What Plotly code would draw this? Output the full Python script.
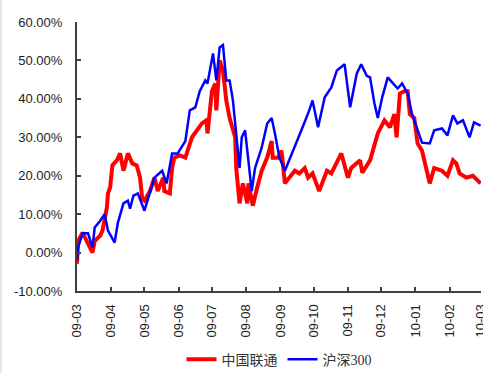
import pandas as pd
import plotly.graph_objects as go

# Day offsets from 2009-03-01 and values (%)
start = pd.Timestamp("2009-03-01")

unicom_days = [0, 1, 5, 9, 14, 16, 21, 23, 27, 28, 30, 32, 36, 39, 42, 46, 50, 54, 57, 59,
               61, 66, 70, 73, 78, 79, 84, 86, 88, 93, 98, 104, 108, 113, 117, 118, 122, 125,
               126, 129, 132, 135, 138, 143, 144, 145, 147, 150, 154, 155, 159, 163, 167, 172,
               176, 177, 182, 185, 188, 192, 197, 201, 206, 209, 213, 219, 226, 230, 239, 245,
               248, 256, 258, 265, 272, 278, 283, 287, 289, 292, 296, 299, 301, 305, 308, 312,
               316, 319, 323, 330, 335, 340, 343, 346, 352, 358, 365]
unicom_vals = [-2.9, 3.0, 5.2, 3.0, 0.0, 3.0, 4.4, 5.7, 11.7, 15.4, 17.0, 22.7, 24.0, 25.8, 21.3,
               25.8, 23.2, 22.7, 19.5, 14.0, 13.5, 16.0, 19.5, 16.0, 19.5, 16.0, 15.4, 22.0, 24.7,
               25.3, 24.7, 30.0, 31.8, 33.6, 34.4, 31.0, 42.0, 44.0, 37.0, 50.0, 47.4, 39.6, 35.0,
               30.0, 22.0, 18.0, 12.8, 18.0, 12.8, 18.0, 12.2, 17.0, 21.3, 24.7, 29.0, 24.7, 24.7,
               26.5, 18.0, 19.5, 21.3, 20.6, 22.0, 19.5, 20.6, 16.0, 21.3, 20.6, 25.8, 19.5, 22.0,
               24.0, 20.8, 24.0, 31.0, 34.4, 32.6, 36.0, 30.0, 41.4, 42.0, 42.0, 36.0, 35.0, 28.4,
               26.5, 22.0, 18.0, 22.0, 21.3, 20.0, 24.0, 23.2, 20.6, 19.5, 20.0, 18.0]

hs300_days = [0, 1, 5, 10, 14, 16, 21, 25, 28, 34, 37, 42, 46, 48, 51, 55, 61, 66, 70, 77, 81,
              86, 91, 98, 102, 107, 111, 116, 118, 123, 126, 129, 132, 135, 138, 141, 143, 147,
              149, 152, 154, 158, 161, 167, 172, 176, 179, 183, 188, 192, 199, 204, 210, 213,
              218, 224, 230, 235, 242, 247, 253, 257, 262, 265, 269, 272, 276, 281, 285, 290,
              294, 299, 303, 308, 312, 319, 323, 330, 335, 340, 344, 349, 355, 359, 365]
hs300_vals = [-2.0, 1.3, 5.0, 5.0, 1.3, 6.5, 8.3, 10.0, 5.7, 2.6, 7.8, 12.8, 13.5, 11.4, 14.8,
              15.4, 10.9, 16.0, 19.5, 21.3, 18.0, 25.8, 25.8, 29.0, 37.0, 37.8, 42.0, 44.8, 44.0,
              51.8, 44.8, 53.4, 54.0, 44.8, 44.8, 39.6, 33.6, 22.0, 30.0, 31.8, 26.5, 16.0, 22.0,
              27.3, 33.6, 35.0, 31.0, 24.7, 21.3, 24.0, 29.0, 32.6, 37.0, 39.6, 32.6, 40.4, 43.0,
              47.4, 49.0, 37.8, 46.6, 49.0, 46.0, 45.6, 38.8, 35.0, 40.4, 45.6, 44.3, 42.7, 44.0,
              41.4, 36.0, 31.8, 28.6, 28.4, 31.8, 32.3, 30.5, 35.7, 33.6, 34.4, 30.0, 33.9, 33.0]

y_ticks = [-10, 0, 10, 20, 30, 40, 50, 60]
y_tick_labels = ["-10.00%", "0.00%", "10.00%", "20.00%", "30.00%", "40.00%", "50.00%", "60.00%"]
series_names = ["中国联通", "沪深300"]

unicom_dates = [start + pd.Timedelta(days=d) for d in unicom_days]
hs300_dates = [start + pd.Timedelta(days=d) for d in hs300_days]

fig = go.Figure()
fig.add_trace(go.Scatter(x=unicom_dates, y=unicom_vals, mode="lines", name=series_names[0],
                         line=dict(color="#FF0000", width=4)))
fig.add_trace(go.Scatter(x=hs300_dates, y=hs300_vals, mode="lines", name=series_names[1],
                         line=dict(color="#0000FF", width=2.5)))

axis_font = dict(family="Liberation Sans, Arial, sans-serif", size=13, color="#222222")

fig.update_layout(
    width=483, height=373,
    margin=dict(l=77, r=2, t=22, b=82, autoexpand=False),
    paper_bgcolor="white", plot_bgcolor="white",
    showlegend=True,
    legend=dict(orientation="h", x=0.5, xanchor="center", y=-0.255, yanchor="middle",
                font=dict(family="Liberation Serif, Noto Sans CJK SC, serif", size=14, color="#333333"),
                itemwidth=30, tracegroupgap=0),
    xaxis=dict(type="date", range=[start, pd.Timestamp("2010-03-01 08:00")],
               tick0="2009-03-01", dtick="M1", tickformat="%y-%m", tickangle=-90,
               showgrid=False, zeroline=False, showline=True, linecolor="#404040", linewidth=2,
               ticks="inside", ticklen=4, tickwidth=1.5, tickcolor="#404040",
               tickfont=axis_font, ticklabelstandoff=6, ticklabeloverflow="allow",
               automargin=False),
    yaxis=dict(range=[-10, 60], tickvals=y_ticks, ticktext=y_tick_labels,
               showgrid=False, zeroline=False, showline=True, linecolor="#404040", linewidth=2,
               ticks="inside", ticklen=4, tickwidth=1.5, tickcolor="#404040",
               tickfont=axis_font, ticklabelstandoff=10, automargin=False),
    shapes=[dict(type="rect", xref="paper", yref="paper", x0=-77/404, x1=-75/404,
                 y0=-82/269, y1=1+22/269, fillcolor="#E8E8E8", line=dict(width=0), layer="below")],
)

fig.write_html("out.html")
